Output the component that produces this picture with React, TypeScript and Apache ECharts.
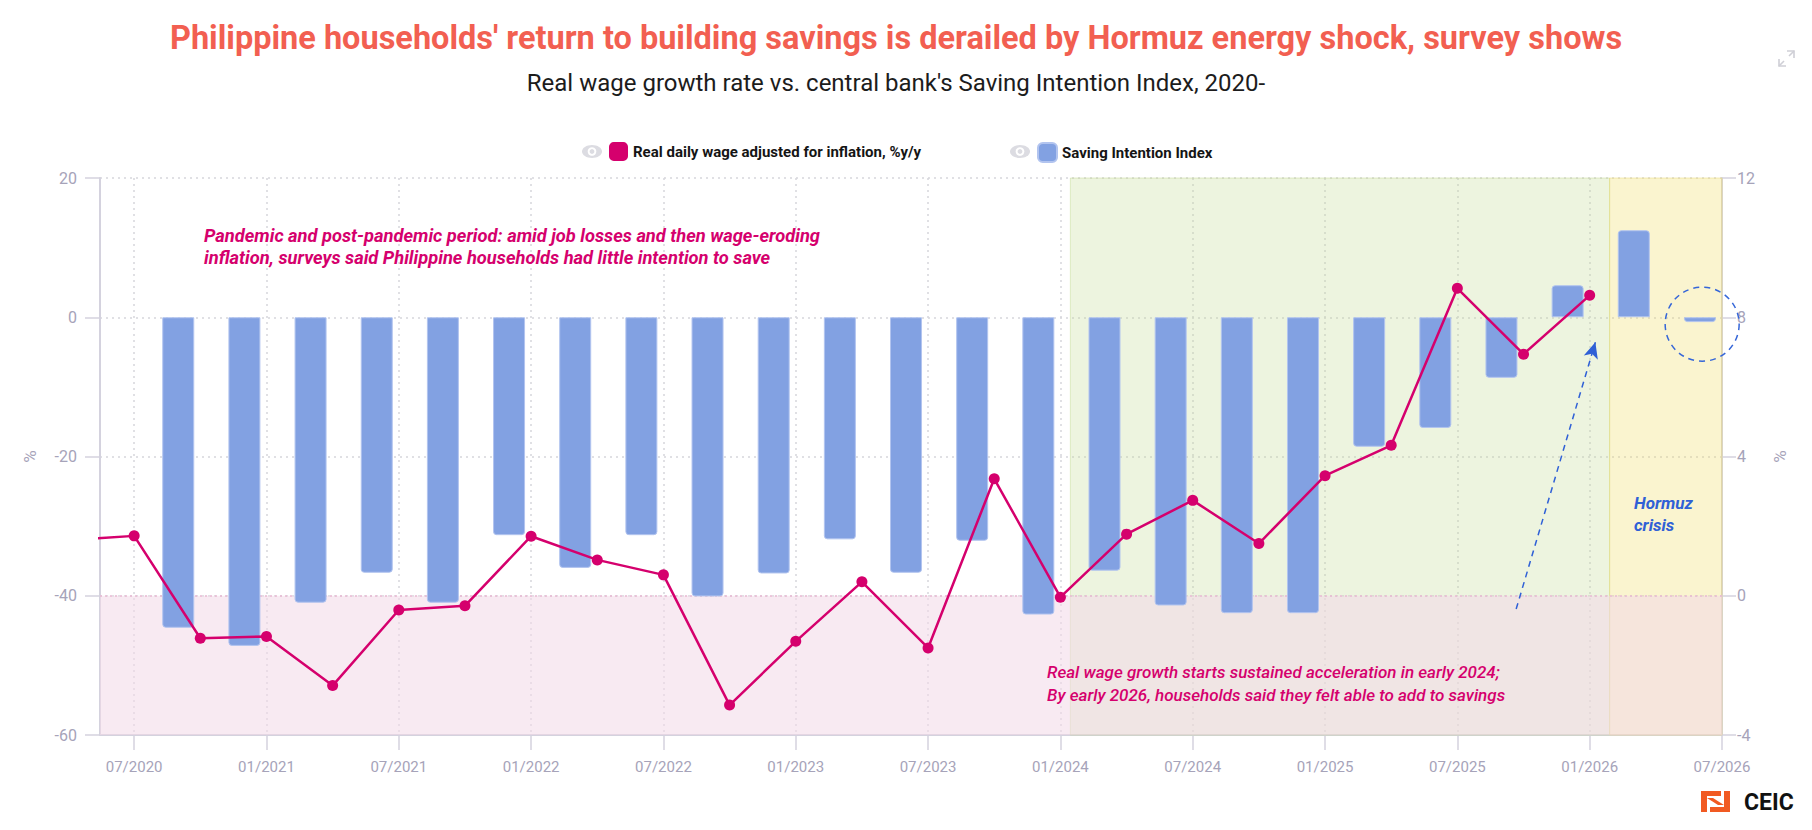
import { useEffect, useRef } from 'react';
import * as echarts from 'echarts';

// Real daily wage adjusted for inflation, %y/y (quarterly, right axis)
const wageMonths = [
  '2020-04', '2020-07', '2020-10',
  '2021-01', '2021-04', '2021-07', '2021-10',
  '2022-01', '2022-04', '2022-07', '2022-10',
  '2023-01', '2023-04', '2023-07', '2023-10',
  '2024-01', '2024-04', '2024-07', '2024-10',
  '2025-01', '2025-04', '2025-07', '2025-10',
  '2026-01',
];
const wageValues = [
  1.6, 1.72, -1.22,
  -1.17, -2.58, -0.41, -0.29,
  1.71, 1.03, 0.6, -3.14,
  -1.31, 0.4, -1.5, 3.36,
  -0.04, 1.77, 2.74, 1.5,
  3.45, 4.32, 8.83, 6.94,
  8.63,
];

// Saving Intention Index (quarterly survey, left axis)
const savingMonths = [
  '2020-09', '2020-12',
  '2021-03', '2021-06', '2021-09', '2021-12',
  '2022-03', '2022-06', '2022-09', '2022-12',
  '2023-03', '2023-06', '2023-09', '2023-12',
  '2024-03', '2024-06', '2024-09', '2024-12',
  '2025-03', '2025-06', '2025-09', '2025-12',
  '2026-03', '2026-06',
];
const savingValues = [
  -44.6, -47.2,
  -41.0, -36.7, -41.0, -31.3,
  -36.0, -31.3, -40.1, -36.8,
  -31.9, -36.7, -32.1, -42.7,
  -36.4, -41.4, -42.5, -42.5,
  -18.6, -15.9, -8.7, 4.6,
  12.5, -0.7,
];

const xTickLabels = [
  '07/2020', '01/2021', '07/2021', '01/2022', '07/2022', '01/2023', '07/2023',
  '01/2024', '07/2024', '01/2025', '07/2025', '01/2026', '07/2026',
];
const xStart = '2020-05-15';
const leftTicks = [-60, -40, -20, 0, 20];
const rightTicks = [-4, 0, 4, 8, 12];

// shaded periods / bands
const recoveryPeriod = ['2024-01-15', '2026-01-29'];
const hormuzPeriod = ['2026-01-29', '2026-07-01'];
const lowWageBand = [-60, -40];

// annotation anchors (left axis units)
const arrowFrom: [string, number] = ['2025-09-21', -41.9];
const arrowTo: [string, number] = ['2026-01-09', -3.6];
const circleAt: [string, number] = ['2026-06-04', -1.0];

const wageName = 'Real daily wage adjusted for inflation, %y/y';
const savingName = 'Saving Intention Index';

const titleText =
  "Philippine households' return to building savings is derailed by Hormuz energy shock, survey shows";
const subtitleText = "Real wage growth rate vs. central bank's Saving Intention Index, 2020-";
const noteLeft =
  'Pandemic and post-pandemic period: amid job losses and then wage-eroding\ninflation, surveys said Philippine households had little intention to save';
const noteRight =
  'Real wage growth starts sustained acceleration in early 2024;\nBy early 2026, households said they felt able to add to savings';
const noteHormuz = 'Hormuz\ncrisis';

const MAGENTA = '#d5006d';
const BAR = '#82a1e2';
const BLUE = '#2f60d6';
const AXIS_GREY = '#d4d2de';
const LABEL_GREY = '#a6a3b9';
const BASE_YEAR = 2020;

// x axis runs in months since 01/2020, days as a fraction of the month
function toMonth(s: string): number {
  const [y, m, d] = s.split('-').map(Number);
  const days = new Date(y, m, 0).getDate();
  return (y - BASE_YEAR) * 12 + (m - 1) + ((d || 1) - 1) / days;
}

function labelToMonth(l: string): number {
  const [m, y] = l.split('/').map(Number);
  return (y - BASE_YEAR) * 12 + (m - 1);
}

function fmtMonth(v: number): string {
  const idx = Math.round(v);
  const y = BASE_YEAR + Math.floor(idx / 12);
  const m = (idx % 12) + 1;
  return `${String(m).padStart(2, '0')}/${y}`;
}

function eye(cx: number, cy: number) {
  return {
    type: 'group',
    x: cx,
    y: cy,
    z: 100,
    children: [
      { type: 'ellipse', shape: { cx: 0, cy: 0, rx: 10, ry: 6.5 }, style: { fill: '#dcdce2' } },
      { type: 'circle', shape: { cx: 0, cy: 0, r: 4.3 }, style: { fill: '#fff' } },
      { type: 'circle', shape: { cx: 0, cy: 0, r: 2.4 }, style: { fill: '#dcdce2' } },
    ],
  };
}

export default function App() {
  const ref = useRef<HTMLDivElement>(null);

  useEffect(() => {
    if (!ref.current) return;
    const chart = echarts.init(ref.current, undefined, { renderer: 'svg' });

    const tickMonths = xTickLabels.map(labelToMonth);
    const xMin = toMonth(xStart);
    const xMax = tickMonths[tickMonths.length - 1];

    const wageData = wageMonths.map((m, i) => [toMonth(m), wageValues[i]]);
    const savingData = savingMonths.map((m, i) => {
      const v = savingValues[i];
      return {
        value: [toMonth(m), v],
        itemStyle: { borderRadius: v < 0 ? [0, 0, 3, 3] : [3, 3, 0, 0] },
      };
    });

    const legendText = {
      fontFamily: 'Roboto',
      fontWeight: 'bold' as const,
      fontSize: 15,
      color: '#151515',
    };

    chart.setOption({
      animation: false,
      backgroundColor: '#fff',
      textStyle: { fontFamily: 'Roboto' },
      title: [
        {
          text: titleText,
          left: 896,
          top: 21,
          textAlign: 'center',
          padding: 0,
          textStyle: { fontFamily: 'Roboto', fontWeight: 'bold', fontSize: 32.5, color: '#f25f51' },
        },
        {
          text: subtitleText,
          left: 896,
          top: 71,
          textAlign: 'center',
          padding: 0,
          textStyle: { fontFamily: 'Roboto', fontWeight: 'normal', fontSize: 24, color: '#1c1c1c' },
        },
      ],
      legend: [
        {
          data: [wageName],
          left: 609,
          top: 142,
          padding: 0,
          icon: 'roundRect',
          itemWidth: 19,
          itemHeight: 19,
          textStyle: legendText,
        },
        {
          data: [savingName],
          left: 1037,
          top: 142,
          padding: 0,
          icon: 'roundRect',
          itemWidth: 19,
          itemHeight: 19,
          textStyle: legendText,
        },
      ],
      grid: { left: 100, right: 90, top: 178, bottom: 95, containLabel: false },
      xAxis: {
        type: 'value',
        min: xMin,
        max: xMax,
        axisLine: { onZero: false, lineStyle: { color: AXIS_GREY, width: 2 } },
        axisTick: {
          show: true,
          length: 15,
          customValues: tickMonths,
          lineStyle: { color: AXIS_GREY, width: 1.5 },
        },
        axisLabel: {
          customValues: tickMonths,
          formatter: (v: number) => fmtMonth(v),
          color: LABEL_GREY,
          fontSize: 15,
          margin: 24,
          showMinLabel: true,
          showMaxLabel: true,
        },
        splitLine: { show: true, lineStyle: { color: '#d6d6dc', type: [2, 4], width: 1.5 } },
      },
      yAxis: [
        {
          type: 'value',
          position: 'left',
          min: leftTicks[0],
          max: leftTicks[leftTicks.length - 1],
          interval: leftTicks[1] - leftTicks[0],
          name: '%',
          nameLocation: 'middle',
          nameGap: 62,
          nameRotate: 90,
          nameTextStyle: { color: LABEL_GREY, fontSize: 17 },
          axisLine: { show: true, onZero: false, lineStyle: { color: AXIS_GREY, width: 2 } },
          axisTick: { show: true, length: 15, lineStyle: { color: AXIS_GREY, width: 1.5 } },
          axisLabel: { color: LABEL_GREY, fontSize: 16, margin: 23 },
          splitLine: { show: true, lineStyle: { color: '#d6d6dc', type: [2, 4], width: 1.5 } },
        },
        {
          type: 'value',
          position: 'right',
          min: rightTicks[0],
          max: rightTicks[rightTicks.length - 1],
          interval: rightTicks[1] - rightTicks[0],
          name: '%',
          nameLocation: 'middle',
          nameGap: 49,
          nameRotate: 90,
          nameTextStyle: { color: LABEL_GREY, fontSize: 17 },
          axisLine: { show: true, onZero: false, lineStyle: { color: AXIS_GREY, width: 2 } },
          axisTick: { show: true, length: 14, lineStyle: { color: AXIS_GREY, width: 1.5 } },
          axisLabel: { color: LABEL_GREY, fontSize: 16, margin: 15 },
          splitLine: { show: false },
        },
      ],
      series: [
        {
          name: wageName,
          type: 'line',
          yAxisIndex: 1,
          data: wageData,
          symbol: 'circle',
          symbolSize: 11,
          showAllSymbol: true,
          clip: true,
          lineStyle: { color: MAGENTA, width: 2.5 },
          itemStyle: { color: MAGENTA },
          z: 3,
        },
        {
          name: savingName,
          type: 'bar',
          yAxisIndex: 0,
          data: savingData,
          barWidth: 32,
          itemStyle: { color: BAR, borderColor: '#b2c4ef', borderWidth: 1 },
          z: 2,
          markArea: {
            silent: true,
            z: 1,
            label: { show: false },
            data: [
              [
                {
                  xAxis: toMonth(recoveryPeriod[0]),
                  itemStyle: {
                    color: 'rgba(196, 219, 150, 0.3)',
                    borderColor: 'rgba(190, 214, 140, 0.45)',
                    borderWidth: 1,
                  },
                },
                { xAxis: toMonth(recoveryPeriod[1]) },
              ],
              [
                {
                  xAxis: toMonth(hormuzPeriod[0]),
                  itemStyle: {
                    color: 'rgba(238, 220, 95, 0.3)',
                    borderColor: 'rgba(236, 222, 120, 0.5)',
                    borderWidth: 1,
                  },
                },
                { xAxis: toMonth(hormuzPeriod[1]) },
              ],
              [
                { yAxis: lowWageBand[0], itemStyle: { color: 'rgba(243, 216, 231, 0.55)' } },
                { yAxis: lowWageBand[1] },
              ],
            ],
          },
          markLine: {
            silent: true,
            z: 1,
            symbol: 'none',
            label: { show: false },
            data: [
              {
                yAxis: lowWageBand[1],
                lineStyle: { color: '#e7b9d2', type: [2, 3], width: 1.5 },
              },
              [
                {
                  coord: [toMonth(arrowFrom[0]), arrowFrom[1]],
                  symbol: 'none',
                  lineStyle: { color: BLUE, type: [6, 5], width: 1.5 },
                },
                {
                  coord: [toMonth(arrowTo[0]), arrowTo[1]],
                  symbol: 'arrow',
                  symbolSize: [11, 16],
                },
              ],
            ],
          },
          markPoint: {
            silent: true,
            symbol: 'circle',
            symbolSize: 74,
            label: { show: false },
            itemStyle: {
              color: 'rgba(0,0,0,0)',
              borderColor: '#3566d8',
              borderWidth: 1.5,
              borderType: [6, 5],
            },
            data: [{ coord: [toMonth(circleAt[0]), circleAt[1]] }],
          },
        },
      ],
      graphic: [
        eye(592, 151.5),
        eye(1020, 151.5),
        {
          type: 'text',
          left: 204,
          top: 224,
          z: 100,
          style: {
            text: noteLeft,
            font: 'italic bold 18.3px Roboto',
            fill: MAGENTA,
            lineHeight: 22,
          },
        },
        {
          type: 'text',
          left: 1047,
          top: 660,
          z: 100,
          style: {
            text: noteRight,
            font: 'italic 500 17px Roboto',
            fill: MAGENTA,
            lineHeight: 23,
          },
        },
        {
          type: 'text',
          left: 1634,
          top: 492,
          z: 100,
          style: {
            text: noteHormuz,
            font: 'italic bold 17px Roboto',
            fill: BLUE,
            lineHeight: 22,
          },
        },
        // expand icon, top right
        {
          type: 'group',
          z: 100,
          children: [
            { type: 'polyline', shape: { points: [[1779, 59], [1779, 66], [1786, 66]] }, style: { stroke: '#cfcfd6', lineWidth: 1.6, fill: 'none' } },
            { type: 'line', shape: { x1: 1779, y1: 66, x2: 1784, y2: 61 }, style: { stroke: '#cfcfd6', lineWidth: 1.6 } },
            { type: 'polyline', shape: { points: [[1787, 51], [1794, 51], [1794, 58]] }, style: { stroke: '#cfcfd6', lineWidth: 1.6, fill: 'none' } },
            { type: 'line', shape: { x1: 1794, y1: 51, x2: 1789, y2: 56 }, style: { stroke: '#cfcfd6', lineWidth: 1.6 } },
          ],
        },
        // CEIC logo, bottom right
        {
          type: 'group',
          z: 100,
          children: [
            { type: 'rect', shape: { x: 1701, y: 791, width: 6, height: 21 }, style: { fill: '#f15a22' } },
            { type: 'rect', shape: { x: 1724, y: 791, width: 6, height: 21 }, style: { fill: '#f15a22' } },
            { type: 'polygon', shape: { points: [[1707, 791], [1721, 791], [1721, 796], [1707, 796]] }, style: { fill: '#f15a22' } },
            { type: 'polygon', shape: { points: [[1707, 798], [1713, 798], [1724, 805], [1718, 805]] }, style: { fill: '#f15a22' } },
            { type: 'polygon', shape: { points: [[1710, 807], [1724, 807], [1724, 812], [1710, 812]] }, style: { fill: '#f15a22' } },
            {
              type: 'text',
              x: 1744,
              y: 802,
              style: {
                text: 'CEIC',
                font: 'bold 23px Roboto',
                fill: '#111',
                verticalAlign: 'middle',
              },
            },
          ],
        },
      ],
    });

    return () => {
      chart.dispose();
    };
  }, []);

  return (
    <div
      ref={ref}
      style={{ position: 'fixed', left: 0, top: 0, width: '1812px', height: '830px' }}
    />
  );
}
